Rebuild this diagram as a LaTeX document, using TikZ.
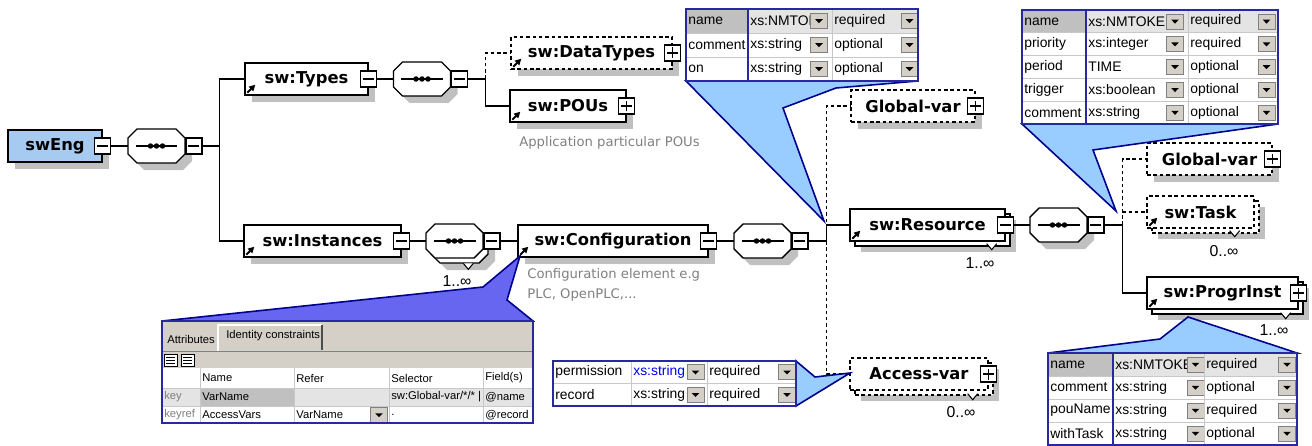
\documentclass[tikz,border=0pt]{standalone}
\usepackage{fontspec}
\setmainfont{Liberation Sans}
\newfontfamily\elemfont{DejaVu Sans}
\usetikzlibrary{shadows,arrows.meta}
\definecolor{engblue}{RGB}{166,202,240}
\definecolor{shadowgray}{RGB}{192,192,192}
\definecolor{calloutblue}{RGB}{153,204,255}
\definecolor{calloutsel}{RGB}{102,102,240}
\definecolor{calloutline}{RGB}{0,0,140}
\definecolor{tblue}{RGB}{40,40,160}
\definecolor{rowgray}{RGB}{228,228,228}
\definecolor{namegray}{RGB}{192,192,192}
\definecolor{gridgray}{RGB}{200,200,200}
\definecolor{btngray}{RGB}{212,208,200}
\definecolor{tabgray}{RGB}{212,208,200}
\definecolor{descgray}{RGB}{128,128,128}
\definecolor{typeblue}{RGB}{0,0,255}

\tikzset{
  elem/.style={draw,line width=0.8pt,fill=white,minimum height=0.64cm,inner sep=0pt,
    font=\elemfont\bfseries\fontsize{9.3}{11}\selectfont},
  optional/.style={dash pattern=on 2pt off 1.6pt},
  single/.style={drop shadow={shadow xshift=0.14cm,shadow yshift=-0.14cm,fill=shadowgray,opacity=1}},
  multi/.style={drop shadow={shadow xshift=0.22cm,shadow yshift=-0.22cm,fill=shadowgray,opacity=1},
    copy shadow={shadow xshift=0.1cm,shadow yshift=-0.1cm,draw=black,fill=white,line width=0.8pt,#1}},
  multi/.default={solid},
  octo/.pic={\path[pic actions] (-19.5,-17) -- (19.5,-17) -- (28.5,-8) -- (28.5,8) -- (19.5,17)
    -- (-19.5,17) -- (-28.5,8) -- (-28.5,-8) -- cycle;},
  seq/.style={rectangle,minimum width=1.14cm,minimum height=0.68cm,inner sep=0pt,
    path picture={
      \draw[black,line width=0.7pt] ([xshift=-0.42cm]path picture bounding box.center) -- ([xshift=0.42cm]path picture bounding box.center);
      \foreach \d in {-0.12,0,0.12}
        \fill[black] ([xshift=\d cm]path picture bounding box.center) circle (0.055cm);}},
  collapse/.style={draw,line width=0.7pt,fill=white,minimum size=0.32cm,inner sep=0pt,
    path picture={\draw[black,line width=0.7pt] ([xshift=-0.11cm]path picture bounding box.center) -- ([xshift=0.11cm]path picture bounding box.center);}},
  expand/.style={collapse,
    path picture={\draw[black,line width=0.7pt] ([xshift=-0.11cm]path picture bounding box.center) -- ([xshift=0.11cm]path picture bounding box.center)
      ([yshift=-0.11cm]path picture bounding box.center) -- ([yshift=0.11cm]path picture bounding box.center);}},
  conn/.style={line width=0.6pt},
  refarrow/.style={line width=1.1pt,-{Triangle[length=3.5pt,width=3.5pt]}},
  notch/.style={line width=0.6pt,fill=white},
  mult/.style={font=\fontsize{9}{10}\selectfont,inner sep=0pt},
  desc/.style={font=\elemfont\fontsize{7.5}{11.3}\selectfont,text=descgray,inner sep=0pt,anchor=north west,align=left},
  callout/.style={fill=calloutblue,draw=calloutline,line width=0.9pt,line join=miter},
  tcell/.style={font=\fontsize{7.9}{9}\selectfont,anchor=west,inner sep=0pt},
  smallcell/.style={font=\fontsize{6.4}{8}\selectfont,anchor=west,inner sep=0pt},
  ddbtn/.style={fill=btngray,draw=gray,line width=0.3pt,minimum width=0.34cm,minimum height=0.3cm,inner sep=0pt,
    path picture={\fill[black] ([shift={(-0.075cm,0.035cm)}]path picture bounding box.center) -- ++(0.15cm,0) -- ++(-0.075cm,-0.08cm) -- cycle;}},
  gridline/.style={draw=gridgray,line width=0.5pt},
  tframe/.style={draw=tblue,line width=1pt},
}

\begin{document}
\begin{tikzpicture}[x=0.02cm,y=-0.02cm]
\useasboundingbox (0,0) rectangle (1312,446);

% sequence compositors
\foreach \n/\cx/\cy in {seq1/156.5/146,seq2/422/79,seq4/762.5/241,seq5/1058.5/225}{
  \pic[fill=shadowgray] at (\cx+7,\cy+7) {octo};
  \pic[draw,fill=white,line width=0.8pt] at (\cx,\cy) {octo};
  \node[seq] (\n) at (\cx,\cy) {};
}
\pic[fill=shadowgray] at (466.5,253) {octo};
\pic[draw,fill=white,line width=0.8pt] at (459.5,246) {octo};
\pic[draw,fill=white,line width=0.8pt] at (454.5,241) {octo};
\node[seq] (seq3) at (454.5,241) {};

% schema tree
\node[elem,single,fill=engblue,minimum width=1.88cm] (eng) at (55,146) {swEng};
\node[collapse] (engm) at (eng.east) {};
\node[collapse,anchor=west] (seq1m) at (seq1.east) {};

\node[elem,single,minimum width=2.46cm] (types) at (306.5,79) {sw:Types};
\node[collapse] (typesm) at (types.east) {};
\node[collapse,anchor=west] (seq2m) at (seq2.east) {};
\node[elem,optional,single,minimum width=3.22cm] (dtypes) at (591.5,53) {sw:DataTypes};
\node[expand] (dtypesm) at (dtypes.east) {};
\node[elem,single,minimum width=2.32cm] (pous) at (568,106) {sw:POUs};
\node[expand] (pousm) at (pous.east) {};

\node[elem,single,minimum width=3.14cm] (inst) at (322.5,241) {sw:Instances};
\node[collapse] (instm) at (inst.east) {};
\node[collapse,anchor=west] (seq3m) at (seq3.east) {};
\node[elem,single,minimum width=3.8cm] (conf) at (613,241) {sw:Configuration};
\node[collapse] (confm) at (conf.east) {};
\node[collapse,anchor=west] (seq4m) at (seq4.east) {};

\node[elem,optional,single,minimum width=2.48cm] (glob1) at (913,106) {Global-var};
\node[expand] (glob1m) at (glob1.east) {};
\node[elem,multi,minimum width=3.1cm] (res) at (927.5,225) {sw:Resource};
\node[collapse] (resm) at (res.east) {};
\node[elem,optional,multi=optional,minimum width=2.76cm] (acc) at (919,374) {Access-var};
\node[expand] (accm) at (acc.east) {};

\node[collapse,anchor=west] (seq5m) at (seq5.east) {};
\node[elem,optional,single,minimum width=2.5cm] (glob2) at (1209.5,159) {Global-var};
\node[expand] (glob2m) at (glob2.east) {};
\node[elem,optional,multi=optional,minimum width=2.14cm] (task) at (1200.5,212) {sw:Task};
\node[elem,multi,minimum width=3.02cm] (prog) at (1222.5,293) {sw:ProgrInst};
\node[expand] (progm) at (prog.east) {};

\foreach \n in {types,dtypes,pous,inst,conf,res,task,prog}
  \draw[refarrow] ([shift={(3,-3)}]\n.south west) -- ++(8,-8);
\foreach \n/\dx/\dy in {seq3/-15/11,res/-14/8,task/-20/8,prog/-13/9,acc/-16/9}
  \draw[notch] ([shift={(\dx-5,\dy-6)}]\n.south east) -- ++(5,6) -- ++(5,-6);

\node[mult] (seq3n) at (457,281) {1..∞};
\node[mult] (resn) at (980,263) {1..∞};
\node[mult] (taskn) at (1224,251) {0..∞};
\node[mult] (progn) at (1274,330) {1..∞};
\node[mult] (accn) at (961,412) {0..∞};

\node[desc] (pousdesc) at (519,136) {Application particular POUs};
\node[desc] (confdesc) at (527,268) {Configuration element e.g\\PLC, OpenPLC,...};

% connectors
\draw[conn] (engm.east) -- (seq1.west);
\draw[conn] (seq1m.east) -- ++(17,0) coordinate (tr1) |- (types.west);
\draw[conn] (tr1) |- (inst.west);
\draw[conn] (typesm.east) -- (seq2.west);
\draw[conn] (seq2m.east) -- ++(17,0) coordinate (tr2) |- (pous.west);
\draw[conn,optional] (tr2) |- (dtypes.west);
\draw[conn] (instm.east) -- (seq3.west);
\draw[conn] (seq3m.east) -- (conf.west);
\draw[conn] (confm.east) -- (seq4.west);
\draw[conn] (seq4m.east) -- ++(18,0) coordinate (tr4);
\draw[conn,optional] (tr4) |- (glob1.west);
\draw[conn,optional] (tr4) |- (acc.west);
\draw[conn] (tr4) |- (res.west);
\draw[conn] (resm.east) -- (seq5.west);
\draw[conn] (seq5m.east) -- ++(18,0) coordinate (tr5);
\draw[conn,optional] (tr5) |- (glob2.west);
\draw[conn,optional] (tr5) |- (task.west);
\draw[conn] (tr5) |- (prog.west);

% callouts
\draw[callout] (686,81) -- (918,81) -- (836,88) -- (783,108) -- (824,221) -- cycle;
\draw[callout] (1022,124) -- (1278,124) -- (1093,150) -- (1116,211) -- cycle;
\draw[callout,fill=calloutsel] (162,321) -- (483,287) -- (520,256) -- (507,300) -- (533,321) -- cycle;
\draw[callout] (796,361) -- (815,377) -- (850,373) -- (796,406) -- cycle;
\draw[callout] (1048,353) -- (1160,339) -- (1188,317) -- (1297,353) -- cycle;

% attributes of sw:Resource
\fill[white] (686,9) rectangle (918,81);
\fill[rowgray] (686,9) rectangle (918,33);
\fill[namegray] (686,9) rectangle (748,33);
\foreach \ry/\ta/\tb/\tc [count=\k] in {9/name/xs:NMTOKEN/required,33/comment/xs:string/optional,57/on/xs:string/optional}{
  \draw[gridline] (686,\ry) -- (918,\ry);
  \node[tcell] (ra\k) at (688,\ry+12) {\ta};
  \begin{scope}
    \clip (748,\ry) rectangle (810,\ry+24);
    \node[tcell] (rb\k) at (750,\ry+12) {\tb};
  \end{scope}
  \node[tcell] (rc\k) at (834,\ry+12) {\tc};
  \node[ddbtn] (rbd\k) at (819,\ry+12) {};
  \node[ddbtn] (rcd\k) at (909.5,\ry+12) {};
}
\draw[gridline] (832,9) -- (832,81);
\draw[tframe] (748,9) -- (748,81);
\draw[tframe] (686,9) rectangle (918,81);

% attributes of sw:Task
\fill[white] (1022,10) rectangle (1278,124);
\fill[rowgray] (1022,10) rectangle (1278,32.8);
\fill[namegray] (1022,10) rectangle (1086,32.8);
\foreach \ry/\ta/\tb/\tc [count=\k] in {10/name/xs:NMTOKEN/required,32.8/priority/xs:integer/required,55.6/period/TIME/optional,78.4/trigger/xs:boolean/optional,101.2/comment/xs:string/optional}{
  \draw[gridline] (1022,\ry) -- (1278,\ry);
  \node[tcell] (ka\k) at (1024,\ry+11.4) {\ta};
  \begin{scope}
    \clip (1086,\ry) rectangle (1167,\ry+22.8);
    \node[tcell] (kb\k) at (1088,\ry+11.4) {\tb};
  \end{scope}
  \node[tcell] (kc\k) at (1190,\ry+11.4) {\tc};
  \node[ddbtn] (kbd\k) at (1175,\ry+11.4) {};
  \node[ddbtn] (kcd\k) at (1266.5,\ry+11.4) {};
}
\draw[gridline] (1188,10) -- (1188,124);
\draw[tframe] (1086,10) -- (1086,124);
\draw[tframe] (1022,10) rectangle (1278,124);

% attributes of sw:ProgrInst
\fill[white] (1048,353) rectangle (1297,445);
\fill[rowgray] (1048,353) rectangle (1297,376);
\fill[namegray] (1048,353) rectangle (1113,376);
\foreach \ry/\ta/\tb/\tc [count=\k] in {353/name/xs:NMTOKEN/required,376/comment/xs:string/optional,399/pouName/xs:string/required,422/withTask/xs:string/optional}{
  \draw[gridline] (1048,\ry) -- (1297,\ry);
  \node[tcell] (pa\k) at (1050,\ry+11.5) {\ta};
  \begin{scope}
    \clip (1113,\ry) rectangle (1188,\ry+23);
    \node[tcell] (pb\k) at (1115,\ry+11.5) {\tb};
  \end{scope}
  \node[tcell] (pc\k) at (1206,\ry+11.5) {\tc};
  \node[ddbtn] (pbd\k) at (1195.5,\ry+11.5) {};
  \node[ddbtn] (pcd\k) at (1287,\ry+11.5) {};
}
\draw[gridline] (1204,353) -- (1204,445);
\draw[tframe] (1113,353) -- (1113,445);
\draw[tframe] (1048,353) rectangle (1297,445);

% attributes of Access-var
\fill[white] (553,361) rectangle (796,406);
\foreach \ry/\ta/\tb/\tc/\tcol [count=\k] in {361/permission/xs:string/required/typeblue,383.5/record/xs:string/required/black}{
  \draw[gridline] (553,\ry) -- (796,\ry);
  \node[tcell] (aa\k) at (555,\ry+11.25) {\ta};
  \begin{scope}
    \clip (631,\ry) rectangle (687,\ry+22.5);
    \node[tcell,text=\tcol] (ab\k) at (633,\ry+11.25) {\tb};
  \end{scope}
  \node[tcell] (ac\k) at (709,\ry+11.25) {\tc};
  \node[ddbtn] (abd\k) at (695.5,\ry+11.25) {};
  \node[ddbtn] (acd\k) at (787,\ry+11.25) {};
}
\draw[gridline] (631,361) -- (631,406) (707,361) -- (707,406);
\draw[tframe] (553,361) rectangle (796,406);

% identity constraints of sw:Configuration
\fill[tabgray] (162,321) rectangle (533,368);
\draw[white,line width=0.8pt] (218,351) -- (218,325) -- (322,325);
\draw[gray!60!black,line width=0.8pt] (322,325) -- (322,350);
\node[smallcell] (tab1) at (167,339) {Attributes};
\node[smallcell] (tab2) at (226,336) {Identity constraints};
\draw[gray,line width=0.5pt] (162,351) -- (533,351);
\draw[line width=0.5pt,fill=white] (164,354) rectangle (177,366) (181,354) rectangle (194,366);
\foreach \iy in {357,360,363}
  \draw[line width=0.5pt] (166,\iy) -- (175,\iy) (183,\iy) -- (192,\iy);
\fill[white] (162,368) rectangle (533,423);
\fill[rowgray] (162,388) rectangle (533,406);
\fill[namegray] (200,388) rectangle (294,406);
\draw[gridline] (162,388) -- (533,388) (162,406) -- (533,406);
\foreach \cx in {200,294,389,483}
  \draw[gridline] (\cx,368) -- (\cx,423);
\node[smallcell] (ic1) at (202,378) {Name};
\node[smallcell] (ic2) at (296,378) {Refer};
\node[smallcell] (ic3) at (391,378) {Selector};
\node[smallcell] (ic4) at (485,378) {Field(s)};
\node[smallcell,text=descgray] (ik0) at (164,397) {key};
\node[smallcell] (ik1) at (202,397) {VarName};
\begin{scope}
  \clip (389,388) rectangle (482,406);
  \node[smallcell] (ik3) at (391,397) {sw:Global-var/*/* |};
\end{scope}
\node[smallcell] (ik4) at (485,397) {@name};
\node[smallcell,text=descgray] (ir0) at (164,415) {keyref};
\node[smallcell] (ir1) at (202,415) {AccessVars};
\node[smallcell] (ir2) at (296,415) {VarName};
\node[ddbtn] (ir2d) at (379,415) {};
\node[smallcell] (ir3) at (391,415) {.};
\node[smallcell] (ir4) at (485,415) {@record};
\draw[tframe] (162,321) rectangle (533,423);
\end{tikzpicture}
\end{document}
